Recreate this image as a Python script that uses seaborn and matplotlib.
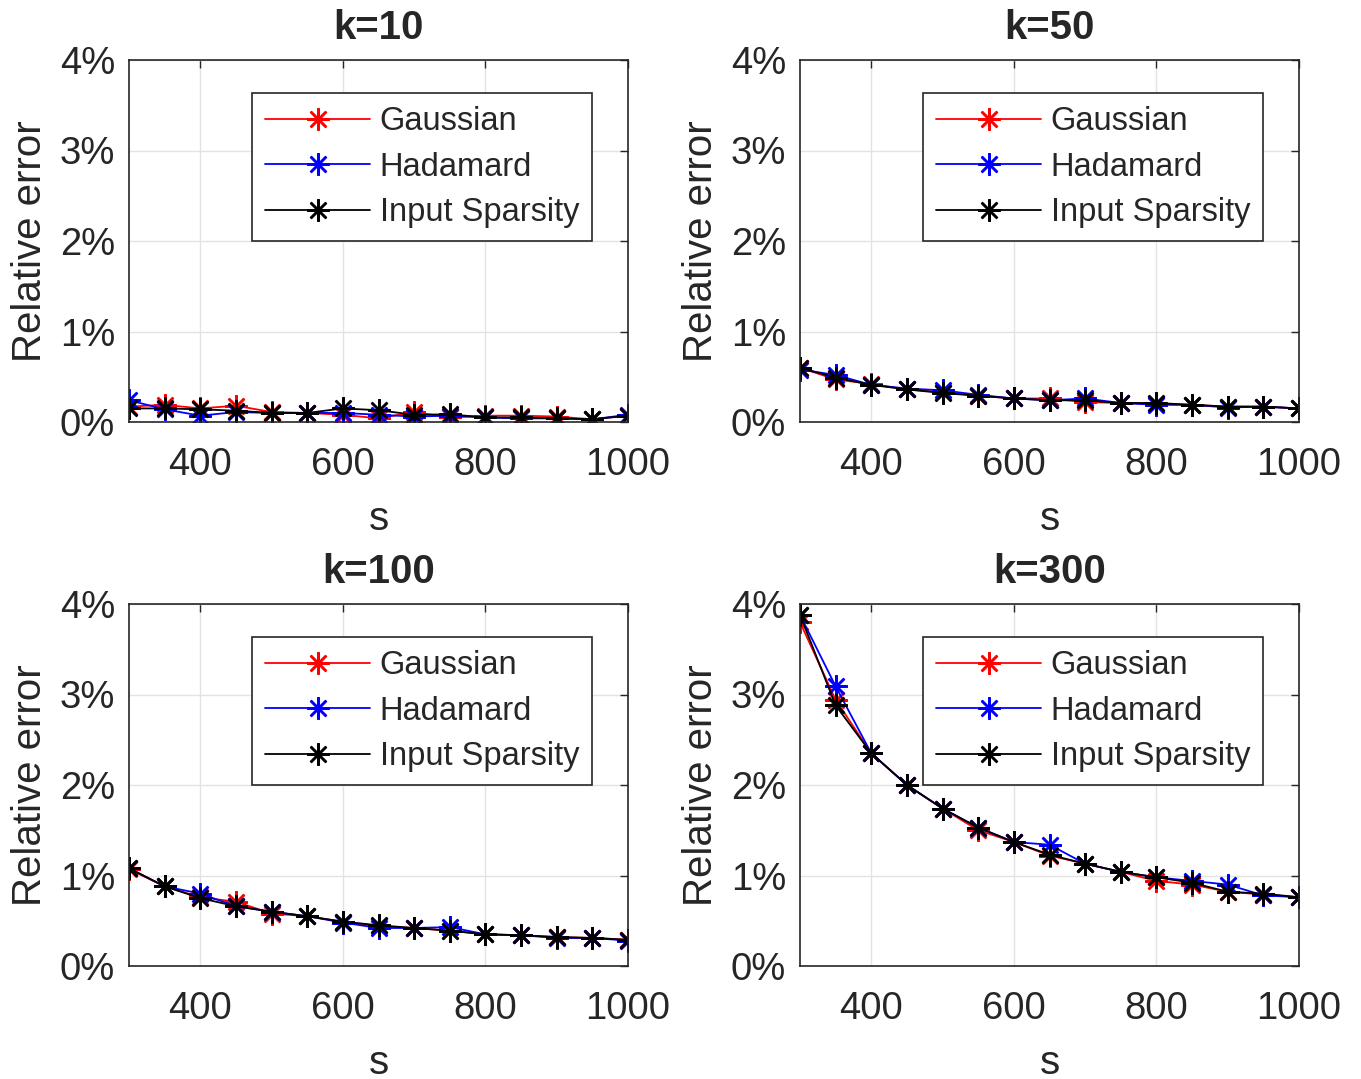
import numpy as np
import pandas as pd
import matplotlib
matplotlib.use("Agg")
import matplotlib.pyplot as plt
import seaborn as sns

# sketch sizes
s = [300, 350, 400, 450, 500, 550, 600, 650, 700, 750, 800, 850, 900, 950, 1000]
methods = ["Gaussian", "Hadamard", "Input Sparsity"]
colors = ["red", "blue", "black"]
titles = ["k=10", "k=50", "k=100", "k=300"]
xticks = [400, 600, 800, 1000]
yticks = [0, 1, 2, 3, 4]

# relative error in percent
k10_gauss = [0.17, 0.19, 0.15, 0.18, 0.11, 0.10, 0.08, 0.04, 0.11, 0.05, 0.07, 0.07, 0.06, 0.03, 0.07]
k10_hada = [0.24, 0.14, 0.07, 0.11, 0.10, 0.10, 0.10, 0.08, 0.06, 0.07, 0.05, 0.04, 0.04, 0.03, 0.08]
k10_input = [0.15, 0.15, 0.14, 0.125, 0.10, 0.10, 0.15, 0.13, 0.08, 0.085, 0.05, 0.05, 0.04, 0.03, 0.07]

k50_gauss = [0.60, 0.47, 0.42, 0.36, 0.33, 0.29, 0.26, 0.26, 0.22, 0.21, 0.20, 0.19, 0.17, 0.17, 0.15]
k50_hada = [0.58, 0.52, 0.41, 0.37, 0.35, 0.30, 0.26, 0.24, 0.26, 0.21, 0.19, 0.19, 0.16, 0.17, 0.15]
k50_input = [0.60, 0.49, 0.41, 0.36, 0.32, 0.29, 0.26, 0.24, 0.24, 0.21, 0.21, 0.19, 0.17, 0.17, 0.15]

k100_gauss = [1.07, 0.88, 0.76, 0.71, 0.58, 0.55, 0.49, 0.44, 0.42, 0.39, 0.35, 0.34, 0.32, 0.31, 0.29]
k100_hada = [1.08, 0.88, 0.80, 0.66, 0.60, 0.55, 0.48, 0.42, 0.42, 0.43, 0.35, 0.34, 0.31, 0.31, 0.28]
k100_input = [1.08, 0.88, 0.75, 0.66, 0.60, 0.55, 0.49, 0.45, 0.42, 0.39, 0.35, 0.34, 0.32, 0.31, 0.29]

k300_gauss = [3.80, 2.94, 2.35, 2.00, 1.74, 1.50, 1.37, 1.22, 1.13, 1.04, 0.94, 0.90, 0.82, 0.79, 0.76]
k300_hada = [3.88, 3.09, 2.35, 2.00, 1.74, 1.53, 1.37, 1.34, 1.13, 1.04, 0.98, 0.94, 0.90, 0.78, 0.76]
k300_input = [3.88, 2.88, 2.35, 2.00, 1.74, 1.53, 1.37, 1.23, 1.13, 1.04, 0.98, 0.92, 0.82, 0.80, 0.76]

panels = [
    [k10_gauss, k10_hada, k10_input],
    [k50_gauss, k50_hada, k50_input],
    [k100_gauss, k100_hada, k100_input],
    [k300_gauss, k300_hada, k300_input],
]

sns.set_style("white")
plt.rcParams["font.family"] = ["Liberation Sans", "DejaVu Sans"]

fig = plt.figure(figsize=(13.61, 10.79), dpi=100)

W, H = 1361, 1079
lefts = [129, 800, 129, 800]
tops = [60, 60, 604, 604]
aw, ah = 499, 362

for i, (title, series) in enumerate(zip(titles, panels)):
    ax = fig.add_axes([lefts[i] / W, 1 - (tops[i] + ah) / H, aw / W, ah / H])
    for name, col, vals in zip(methods, colors, series):
        df = pd.DataFrame({"s": s, "err": vals})
        sns.lineplot(data=df, x="s", y="err", ax=ax, color=col, label=name,
                     linewidth=1.3, marker=(8, 2, 0), markersize=16,
                     markeredgecolor=col, markeredgewidth=1.8)
    ax.set_xlim(300, 1000)
    ax.set_ylim(0, 4)
    ax.set_xticks(xticks)
    ax.set_yticks(yticks)
    ax.set_yticklabels([f"{t}%" for t in yticks])
    ax.grid(True, color="#e3e3e3", linewidth=1.0)
    ax.tick_params(direction="in", top=True, right=True, length=6,
                   width=1.0, color="#262626", labelsize=27.5)
    ax.tick_params(axis="x", pad=18)
    ax.tick_params(axis="y", pad=10)
    for sp in ax.spines.values():
        sp.set_color("#262626")
        sp.set_linewidth(1.2)
    ax.set_xlabel("s", fontsize=29, labelpad=12)
    ax.set_ylabel("Relative error", fontsize=29, labelpad=8)
    ax.set_title(title, fontsize=29, fontweight="bold", pad=15)
    leg = ax.legend(loc="upper right", bbox_to_anchor=(0.928, 0.909),
                    fontsize=23.5, handlelength=3.2, handletextpad=0.3,
                    labelspacing=0.45, borderpad=0.4, borderaxespad=0,
                    fancybox=False, framealpha=1, edgecolor="#262626")
    leg.get_frame().set_linewidth(1.2)

fig.savefig("out.png", dpi=100)
